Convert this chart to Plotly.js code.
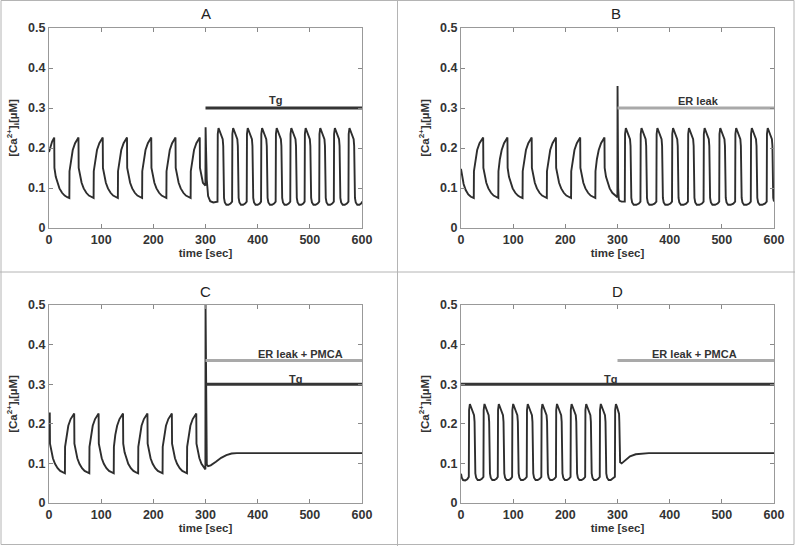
<!DOCTYPE html>
<html>
<head>
<meta charset="utf-8">
<script src="https://cdn.plot.ly/plotly-3.0.1.min.js"></script>
<style>html,body{margin:0;padding:0;background:#fff;}#chart{width:795px;height:546px;}</style>
</head>
<body>
<div id="chart"></div>
<script>
// ---------- DATA (time [sec], [Ca2+]i [uM]) ----------
const curveA = [
[0,.19],[3,.205],[6,.216],[10,.226],
[10.4,.150],[13,.128],[16,.113],[20,.099],[25,.088],[30,.081],[35,.077],[39,.075],[39.3,.142],[42,.172],[45.5,.195],[50,.212],[56.5,.226],
[56.9,.150],[59.5,.128],[62.5,.113],[66.5,.099],[71.5,.088],[76.5,.081],[81.5,.077],[85.5,.075],[85.8,.142],[88.5,.172],[92,.195],[96.5,.212],[103,.226],
[103.4,.150],[106,.128],[109,.113],[113,.099],[118,.088],[123,.081],[128,.077],[132,.075],[132.3,.142],[135,.172],[138.5,.195],[143,.212],[149.5,.226],
[149.9,.150],[152.5,.128],[155.5,.113],[159.5,.099],[164.5,.088],[169.5,.081],[174.5,.077],[178.5,.075],[178.8,.142],[181.5,.172],[185,.195],[189.5,.212],[196,.226],
[196.4,.150],[199,.128],[202,.113],[206,.099],[211,.088],[216,.081],[221,.077],[225,.075],[225.3,.142],[228,.172],[231.5,.195],[236,.212],[242.5,.226],
[242.9,.150],[245.5,.128],[248.5,.113],[252.5,.099],[257.5,.088],[262.5,.081],[267.5,.077],[271.5,.075],[271.8,.142],[274.5,.172],[278,.195],[282.5,.212],[289,.226],
[289.4,.150],[292,.128],[295,.113],[299.8,.106],
[300.2,.252],[301,.2],[302.5,.12],[305,.08],[309,.067],[315,.064],
[323,.066],[323.5,.235],[325,.25],[327,.243],[330,.232],[333,.222],[334,.205],[334.5,.11],[335.5,.075],[337,.064],[340,.058],[344,.058],[348,.061],
[351,.066],[351.5,.235],[353,.25],[355,.243],[358,.232],[361,.222],[362,.205],[362.5,.11],[363.5,.075],[365,.064],[368,.058],[372,.058],[376,.061],
[379,.066],[379.5,.235],[381,.25],[383,.243],[386,.232],[389,.222],[390,.205],[390.5,.11],[391.5,.075],[393,.064],[396,.058],[400,.058],[404,.061],
[406.5,.066],[407,.235],[408.5,.25],[410.5,.243],[413.5,.232],[416.5,.222],[417.5,.205],[418,.11],[419,.075],[420.5,.064],[423.5,.058],[427.5,.058],[431.5,.061],
[434.5,.066],[435,.235],[436.5,.25],[438.5,.243],[441.5,.232],[444.5,.222],[445.5,.205],[446,.11],[447,.075],[448.5,.064],[451.5,.058],[455.5,.058],[459.5,.061],
[462.5,.066],[463,.235],[464.5,.25],[466.5,.243],[469.5,.232],[472.5,.222],[473.5,.205],[474,.11],[475,.075],[476.5,.064],[479.5,.058],[483.5,.058],[487.5,.061],
[490,.066],[490.5,.235],[492,.25],[494,.243],[497,.232],[500,.222],[501,.205],[501.5,.11],[502.5,.075],[504,.064],[507,.058],[511,.058],[515,.061],
[518,.066],[518.5,.235],[520,.25],[522,.243],[525,.232],[528,.222],[529,.205],[529.5,.11],[530.5,.075],[532,.064],[535,.058],[539,.058],[543,.061],
[546,.066],[546.5,.235],[548,.25],[550,.243],[553,.232],[556,.222],[557,.205],[557.5,.11],[558.5,.075],[560,.064],[563,.058],[567,.058],[571,.061],
[574,.066],[574.5,.235],[576,.25],[578,.243],[581,.232],[584,.222],[585,.205],[585.5,.11],[586.5,.075],[588,.064],[591,.058],[595,.058],[599,.062],[600,.066]
];

const curveB = [
[0,.148],[2,.128],[5,.110],[9,.095],[14,.084],[19,.078],[24.5,.075],[24.8,.142],[27.5,.172],[31,.195],[35.5,.212],[42.5,.226],
[42.9,.150],[45.5,.128],[48.5,.113],[52.5,.099],[57.5,.088],[62.5,.081],[67.5,.077],[71.5,.075],[71.8,.142],[74.5,.172],[78,.195],[82.5,.212],[89,.226],
[89.4,.150],[92,.128],[95,.113],[99,.099],[104,.088],[109,.081],[114,.077],[118,.075],[118.3,.142],[121,.172],[124.5,.195],[129,.212],[135.5,.226],
[135.9,.150],[138.5,.128],[141.5,.113],[145.5,.099],[150.5,.088],[155.5,.081],[160.5,.077],[164.5,.075],[164.8,.142],[167.5,.172],[171,.195],[175.5,.212],[182,.226],
[182.4,.150],[185,.128],[188,.113],[192,.099],[197,.088],[202,.081],[207,.077],[211,.075],[211.3,.142],[214,.172],[217.5,.195],[222,.212],[228.5,.226],
[228.9,.150],[231.5,.128],[234.5,.113],[238.5,.099],[243.5,.088],[248.5,.081],[253.5,.077],[257.5,.075],[257.8,.142],[260.5,.172],[264,.195],[268.5,.212],[275,.226],
[275.4,.150],[278,.128],[281,.113],[285,.099],[290,.088],[295,.081],[299.8,.077],
[300.1,.355],[300.6,.2],[301.3,.1],[302.5,.072],[304,.068],[308,.066],
[314,.066],[314.5,.235],[316,.25],[318,.243],[321,.232],[324,.222],[325,.205],[325.5,.11],[326.5,.075],[328,.064],[331,.058],[336,.058],[341,.061],
[344,.066],[344.5,.235],[346,.25],[348,.243],[351,.232],[354,.222],[355,.205],[355.5,.11],[356.5,.075],[358,.064],[361,.058],[366,.058],[371,.061],
[374.5,.066],[375,.235],[376.5,.25],[378.5,.243],[381.5,.232],[384.5,.222],[385.5,.205],[386,.11],[387,.075],[388.5,.064],[391.5,.058],[396.5,.058],[401.5,.061],
[404.5,.066],[405,.235],[406.5,.25],[408.5,.243],[411.5,.232],[414.5,.222],[415.5,.205],[416,.11],[417,.075],[418.5,.064],[421.5,.058],[426.5,.058],[431.5,.061],
[435,.066],[435.5,.235],[437,.25],[439,.243],[442,.232],[445,.222],[446,.205],[446.5,.11],[447.5,.075],[449,.064],[452,.058],[457,.058],[462,.061],
[465,.066],[465.5,.235],[467,.25],[469,.243],[472,.232],[475,.222],[476,.205],[476.5,.11],[477.5,.075],[479,.064],[482,.058],[487,.058],[492,.061],
[495,.066],[495.5,.235],[497,.25],[499,.243],[502,.232],[505,.222],[506,.205],[506.5,.11],[507.5,.075],[509,.064],[512,.058],[517,.058],[522,.061],
[525.5,.066],[526,.235],[527.5,.25],[529.5,.243],[532.5,.232],[535.5,.222],[536.5,.205],[537,.11],[538,.075],[539.5,.064],[542.5,.058],[547.5,.058],[552.5,.061],
[555.5,.066],[556,.235],[557.5,.25],[559.5,.243],[562.5,.232],[565.5,.222],[566.5,.205],[567,.11],[568,.075],[569.5,.064],[572.5,.058],[577.5,.058],[582.5,.061],
[586,.066],[586.5,.235],[588,.25],[590,.243],[593,.232],[596,.222],[597,.205],[597.5,.11],[598.5,.075],[600,.066]
];

const curveC = [
[0,.226],[1.5,.226],
[1.9,.150],[4.5,.128],[7.5,.113],[11.5,.099],[16.5,.088],[21.5,.081],[26.5,.077],[30.5,.075],[30.8,.142],[33.5,.172],[37,.195],[41.5,.212],[48.3,.226],
[48.7,.150],[51.3,.128],[54.3,.113],[58.3,.099],[63.3,.088],[68.3,.081],[73.3,.077],[77.3,.075],[77.6,.142],[80.3,.172],[83.8,.195],[88.3,.212],[95.1,.226],
[95.5,.150],[98.1,.128],[101.1,.113],[105.1,.099],[110.1,.088],[115.1,.081],[120.1,.077],[124.1,.075],[124.4,.142],[127.1,.172],[130.6,.195],[135.1,.212],[141.9,.226],
[142.3,.150],[144.9,.128],[147.9,.113],[151.9,.099],[156.9,.088],[161.9,.081],[166.9,.077],[170.9,.075],[171.2,.142],[173.9,.172],[177.4,.195],[181.9,.212],[188.7,.226],
[189.1,.150],[191.7,.128],[194.7,.113],[198.7,.099],[203.7,.088],[208.7,.081],[213.7,.077],[217.7,.075],[218,.142],[220.7,.172],[224.2,.195],[228.7,.212],[235.5,.226],
[235.9,.150],[238.5,.128],[241.5,.113],[245.5,.099],[250.5,.088],[255.5,.081],[260.5,.077],[264.5,.075],[264.8,.142],[267.5,.172],[271,.195],[275.5,.212],[282.3,.226],
[282.7,.150],[285.3,.128],[288.3,.113],[292.3,.099],[297.3,.088],[299.8,.085],
[300.1,.5],[300.7,.3],[301.5,.13],[302.5,.097],[305,.093],[310,.095],[320,.104],[330,.114],[340,.121],[350,.125],[360,.126],[600,.126]
];

const curveD = [
[0,.074],[1.5,.064],[4,.058],[8,.057],[12,.060],
[15,.066],[15.5,.235],[17,.25],[19,.243],[22,.232],[25,.222],[26,.205],[26.5,.11],[27.5,.075],[29,.064],[32,.058],[36,.058],[40,.061],
[43,.066],[43.5,.235],[45,.25],[47,.243],[50,.232],[53,.222],[54,.205],[54.5,.11],[55.5,.075],[57,.064],[60,.058],[64,.058],[68,.061],
[70.5,.066],[71,.235],[72.5,.25],[74.5,.243],[77.5,.232],[80.5,.222],[81.5,.205],[82,.11],[83,.075],[84.5,.064],[87.5,.058],[91.5,.058],[95.5,.061],
[98,.066],[98.5,.235],[100,.25],[102,.243],[105,.232],[108,.222],[109,.205],[109.5,.11],[110.5,.075],[112,.064],[115,.058],[119,.058],[123,.061],
[126,.066],[126.5,.235],[128,.25],[130,.243],[133,.232],[136,.222],[137,.205],[137.5,.11],[138.5,.075],[140,.064],[143,.058],[147,.058],[151,.061],
[154,.066],[154.5,.235],[156,.25],[158,.243],[161,.232],[164,.222],[165,.205],[165.5,.11],[166.5,.075],[168,.064],[171,.058],[175,.058],[179,.061],
[182,.066],[182.5,.235],[184,.25],[186,.243],[189,.232],[192,.222],[193,.205],[193.5,.11],[194.5,.075],[196,.064],[199,.058],[203,.058],[207,.061],
[210,.066],[210.5,.235],[212,.25],[214,.243],[217,.232],[220,.222],[221,.205],[221.5,.11],[222.5,.075],[224,.064],[227,.058],[231,.058],[235,.061],
[238,.066],[238.5,.235],[240,.25],[242,.243],[245,.232],[248,.222],[249,.205],[249.5,.11],[250.5,.075],[252,.064],[255,.058],[259,.058],[263,.061],
[266,.066],[266.5,.235],[268,.25],[270,.243],[273,.232],[276,.222],[277,.205],[277.5,.11],[278.5,.075],[280,.064],[283,.058],[287,.058],[291,.061],
[295,.066],[295.5,.235],[297,.25],[299,.243],[302,.232],[303,.225],[303.5,.205],[304,.13],[305,.103],[308,.100],[315,.107],[324,.118],[335,.123],[349,.1255],[360,.126],[600,.126]
];

// treatment bars: [start, end] times and levels
const tgTimes = [300, 600];
const tgTimesD = [0, 600];
const tgLevel = [0.3, 0.3];
const leakTimes = [300, 600];
const leakLevel = [0.3, 0.3];
const pmcaTimes = [300, 600];
const pmcaLevel = [0.36, 0.36];

const xTicks = [0, 100, 200, 300, 400, 500, 600];
const yTicks = [0, 0.1, 0.2, 0.3, 0.4, 0.5];
const panelLetters = ['A', 'B', 'C', 'D'];

// ---------- BUILD ----------
const curveColor = '#2e2e2e';
const tgColor = '#353535';
const leakColor = '#a9a9a9';

function curveTrace(pairs, ax) {
  return {x: pairs.map(p => p[0]), y: pairs.map(p => p[1]), xaxis: 'x' + ax, yaxis: 'y' + ax,
    mode: 'lines', line: {color: curveColor, width: 1.9}, hoverinfo: 'skip'};
}
function barTrace(xs, ys, color, ax) {
  return {x: xs, y: ys, xaxis: 'x' + ax, yaxis: 'y' + ax, mode: 'lines',
    line: {color: color, width: 3}, hoverinfo: 'skip'};
}

const data = [
  curveTrace(curveA, ''), barTrace(tgTimes, tgLevel, tgColor, ''),
  curveTrace(curveB, '2'), barTrace(leakTimes, leakLevel, leakColor, '2'),
  curveTrace(curveC, '3'), barTrace(pmcaTimes, pmcaLevel, leakColor, '3'), barTrace(tgTimes, tgLevel, tgColor, '3'),
  curveTrace(curveD, '4'), barTrace(pmcaTimes, pmcaLevel, leakColor, '4'), barTrace(tgTimesD, tgLevel, tgColor, '4')
];

const W = 795, H = 546;
const colX = [[49, 362], [461, 774]];
const rowY = [[28, 228], [305, 503]];
const tickFont = {family: 'Liberation Sans, Arial, sans-serif', size: 12.5, color: '#333', weight: 'bold'};
const titleFont = {family: 'Liberation Sans, Arial, sans-serif', size: 11.5, color: '#333', weight: 'bold'};

function xAxis(col, anchor) {
  return {domain: [colX[col][0] / W, colX[col][1] / W], anchor: anchor, range: [0, 600],
    tickvals: xTicks, ticks: 'inside', ticklen: 4, tickcolor: '#888', showline: true, linecolor: '#999',
    linewidth: 1, mirror: 'allticks', showgrid: false, zeroline: false, tickfont: tickFont,
    title: {text: 'time [sec]', font: titleFont, standoff: 0}};
}
function yAxis(row, anchor) {
  return {domain: [1 - rowY[row][1] / H, 1 - rowY[row][0] / H], anchor: anchor, range: [0, 0.5],
    tickvals: yTicks, ticks: 'inside', ticklen: 4, tickcolor: '#888', showline: true, linecolor: '#999',
    linewidth: 1, mirror: 'allticks', showgrid: false, zeroline: false, tickfont: tickFont,
    title: {text: '[Ca<sup>2+</sup>]<sub>i</sub>[µM]', font: titleFont, standoff: 8}};
}

const letterPos = [[205.7, 13.5], [616, 13.5], [205.7, 291], [617, 291]];
const annotations = panelLetters.map((L, i) => ({
  text: L, xref: 'paper', yref: 'paper', x: letterPos[i][0] / W, y: 1 - letterPos[i][1] / H,
  xanchor: 'center', yanchor: 'middle', showarrow: false,
  font: {family: 'Liberation Sans, Arial, sans-serif', size: 15, color: '#222'}
}));
const lblFont = {family: 'Liberation Sans, Arial, sans-serif', size: 11, color: '#333', weight: 'bold'};
function lbl(text, x, y, ax) {
  return {text: text, xref: 'x' + ax, yref: 'y' + ax, x: x, y: y, xanchor: 'center', yanchor: 'middle',
    showarrow: false, font: lblFont};
}
annotations.push(lbl('Tg', 434, 0.319, ''));
annotations.push(lbl('ER leak', 455, 0.318, '2'));
annotations.push(lbl('ER leak + PMCA', 482, 0.376, '3'));
annotations.push(lbl('Tg', 472, 0.313, '3'));
annotations.push(lbl('ER leak + PMCA', 448, 0.377, '4'));
annotations.push(lbl('Tg', 286, 0.314, '4'));

const borderColor = '#b4b4b4';
const shapes = [
  {type: 'rect', xref: 'paper', yref: 'paper', x0: 1 / W, x1: 1 - 1 / W, y0: 1.5 / H, y1: 1 - 0.5 / H,
    line: {color: borderColor, width: 1}},
  {type: 'line', xref: 'paper', yref: 'paper', x0: 397.5 / W, x1: 397.5 / W, y0: 0, y1: 1,
    line: {color: borderColor, width: 1}},
  {type: 'line', xref: 'paper', yref: 'paper', x0: 0, x1: 1, y0: 1 - 272 / H, y1: 1 - 272 / H,
    line: {color: borderColor, width: 1}}
];

const layout = {
  width: W, height: H, margin: {l: 0, r: 0, t: 0, b: 0}, showlegend: false,
  paper_bgcolor: '#fff', plot_bgcolor: '#fff',
  xaxis: xAxis(0, 'y'), yaxis: yAxis(0, 'x'),
  xaxis2: xAxis(1, 'y2'), yaxis2: yAxis(0, 'x2'),
  xaxis3: xAxis(0, 'y3'), yaxis3: yAxis(1, 'x3'),
  xaxis4: xAxis(1, 'y4'), yaxis4: yAxis(1, 'x4'),
  annotations: annotations, shapes: shapes
};

Plotly.newPlot('chart', data, layout, {staticPlot: true, displayModeBar: false});
</script>
</body>
</html>
